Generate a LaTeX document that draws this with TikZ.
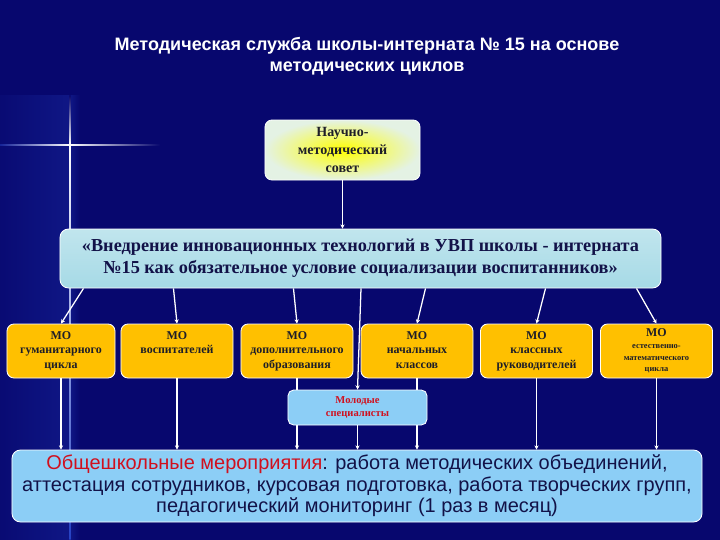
\documentclass[tikz,border=0pt]{standalone}
\usepackage{fontspec}
\setmainfont{Liberation Serif}
\setsansfont{Liberation Sans}
\usepackage{tikz}
\usetikzlibrary{arrows.meta,calc}
\definecolor{MSNavy}  {HTML}{07076E}
\definecolor{MSGlow}  {HTML}{2C4FD8}
\definecolor{MSGold}  {HTML}{FFC000}
\definecolor{MSAqua}  {HTML}{A6DAE6}
\definecolor{MSSky}   {HTML}{8CCEF6}
\definecolor{MSPale}  {HTML}{E4F2E4}
\definecolor{MSInk}   {HTML}{1E1E28}
\definecolor{MSDeep}  {HTML}{121248}
\definecolor{MSRed}   {HTML}{D0101E}

\tikzset{
  council/.style={draw=white,line width=0.6pt,rounded corners=5pt,inner color=yellow,outer color=MSPale,
    minimum width=38.75mm,minimum height=15mm,align=center,inner sep=1pt,
    font=\bfseries\fontsize{10}{12.8}\selectfont,text=MSInk},
  ideabox/.style={draw=white,line width=0.6pt,rounded corners=6pt,top color=MSAqua!70!white,bottom color=MSAqua,
    minimum width=150.25mm,minimum height=14.75mm,align=center,inner sep=1pt,
    font=\bfseries\fontsize{13}{15.6}\selectfont,text=MSDeep},
  mobox/.style={draw=white,line width=0.6pt,rounded corners=5pt,fill=MSGold,
    minimum width=28mm,minimum height=13.5mm,align=center,inner sep=1pt,
    font=\bfseries\fontsize{8.5}{10.5}\selectfont,text=MSInk},
  youngbox/.style={draw=white,line width=0.6pt,rounded corners=4pt,fill=MSSky,
    minimum width=34.75mm,minimum height=8.75mm,align=center,inner sep=1pt,
    font=\bfseries\fontsize{7.5}{9.5}\selectfont,text=MSRed},
  totalbox/.style={draw=white,line width=0.6pt,rounded corners=6pt,fill=MSSky,
    minimum width=172.5mm,minimum height=18mm,align=center,inner sep=1pt,
    font=\sffamily\fontsize{14.2}{15.4}\selectfont,text=MSDeep},
  link/.style={draw=white,line width=0.9pt,-{Stealth[length=3pt,width=3pt]}}
}

\begin{document}
\begin{tikzpicture}[x=0.25mm,y=-0.25mm]
    \useasboundingbox (0,0) rectangle (720,540);
    % background
    \fill[MSNavy] (0,0) rectangle (720,540);
    \shade[left color=MSNavy!95!MSGlow,right color=MSNavy!78!MSGlow] (0,95) rectangle (70,540);
    \shade[left color=MSNavy!78!MSGlow,right color=MSNavy] (70,95) rectangle (80,540);
    % sparkle
    \shade[top color=MSNavy,bottom color=white] (69.3,95) rectangle (70.7,145);
    \shade[top color=white,bottom color=MSGlow!80!MSNavy] (69.3,145) rectangle (70.7,540);
    \shade[left color=MSNavy!60!MSGlow,right color=white] (0,144.3) rectangle (70,145.7);
    \shade[left color=white,right color=MSNavy] (70,144.3) rectangle (160,145.7);
    % title
    \node[font=\sffamily\bfseries\fontsize{12.8}{15}\selectfont,text=white,align=center] (title) at (367,56)
      {Методическая служба школы-интерната № 15 на основе\\методических циклов};
    % council and main idea
    \node[council] (council) at (342.5,150) {Научно-\\методический\\совет};
    \node[ideabox] (idea) at (360.5,258.5)
      {«Внедрение инновационных технологий в УВП школы - интерната\\№15 как обязательное условие социализации воспитанников»};
    % methodical units
    \node[mobox,minimum width=27mm] (mo1) at (61,351) {МО\strut\\гуманитарного\strut\\цикла\strut};
    \node[mobox] (mo2) at (177,351) {МО\strut\\воспитателей\strut\\\strut};
    \node[mobox] (mo3) at (297,351) {МО\strut\\дополнительного\strut\\образования\strut};
    \node[mobox] (mo4) at (417,351) {МО\strut\\начальных\strut\\классов\strut};
    \node[mobox] (mo5) at (536.5,351) {МО\strut\\классных\strut\\руководителей\strut};
    \node[mobox,font=\bfseries\fontsize{6}{8.4}\selectfont] (mo6) at (656.5,351)
      {{\fontsize{8.5}{8.4}\selectfont МО}\\естественно-\\математического\\цикла};
    % school-wide events
    \node[totalbox] (total) at (357,486)
      {\textcolor{MSRed}{Общешкольные мероприятия}: работа методических объединений,\\
       аттестация сотрудников, курсовая подготовка, работа творческих групп,\\
       педагогический мониторинг (1 раз в месяц)};
    % connectors
    \draw[link] (council.south) -- (council.south |- idea.north);
    \draw[link] ([shift={(-277,0)}]idea.south) -- (mo1.north);
    \draw[link] ([shift={(-187,0)}]idea.south) -- (mo2.north);
    \draw[link] ([shift={(-67,0)}]idea.south) -- (mo3.north);
    \draw[link] ([shift={(65,0)}]idea.south) -- (mo4.north);
    \draw[link] ([shift={(185,0)}]idea.south) -- (mo5.north);
    \draw[link] ([shift={(276,0)}]idea.south) -- (mo6.north);
    \foreach \m in {mo1,mo2,mo3,mo4,mo5,mo6}
      \draw[link] (\m.south) -- (\m.south |- total.north);
    % young specialists
    \node[youngbox] (young) at (357.5,407.5) {Молодые\\специалисты};
    \draw[link] ([shift={(0.5,0)}]idea.south) -- (young.north);
    \draw[link] (young.south) -- (young.south |- total.north);
\end{tikzpicture}
\end{document}
